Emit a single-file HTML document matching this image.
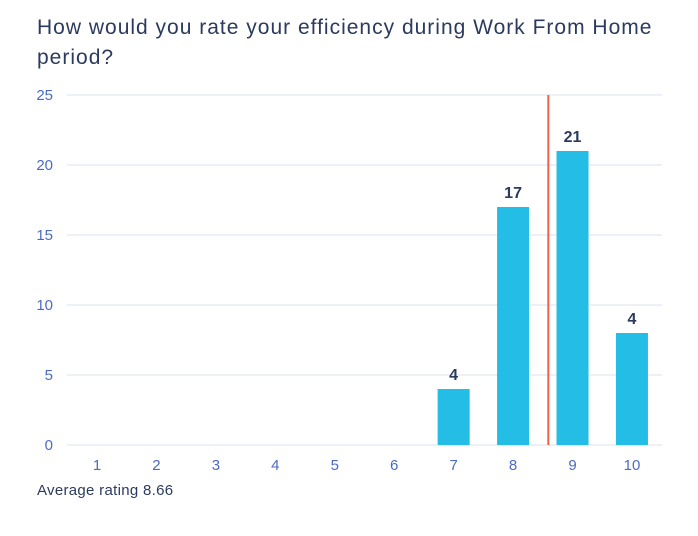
<!DOCTYPE html>
<html><head><meta charset="utf-8"><style>
body{margin:0;background:#fff;width:698px;height:536px;overflow:hidden;font-family:"Liberation Sans",sans-serif}
h1{position:absolute;left:37px;top:13px;margin:0;font-size:21px;font-weight:normal;color:#2b3a5e;line-height:30px;width:640px;letter-spacing:1px}
#avg{position:absolute;left:37px;top:482px;font-size:15px;color:#2b3a5e;letter-spacing:0.3px}
svg{position:absolute;left:0;top:0}
</style></head><body>
<h1>How would you rate your efficiency during Work From Home period?</h1>
<svg id="c" width="698" height="536"></svg>
<div id="avg">Average rating 8.66</div>
<script>
const categories=["1","2","3","4","5","6","7","8","9","10"];
const values=[0,0,0,0,0,0,4,17,21,8];
const valueLabels=["","","","","","","4","17","21","4"];
const yTicks=[0,5,10,15,20,25];
const averageValue=8.66;
const ns="http://www.w3.org/2000/svg",svg=document.getElementById('c');
const y0=445,yTop=95,yMax=25;
const y=v=>y0-(v/yMax)*(y0-yTop);
const x=i=>97+i*59.44;
function mk(t,a){const e=document.createElementNS(ns,t);for(const k in a)e.setAttribute(k,a[k]);svg.appendChild(e);return e;}
yTicks.forEach(t=>{
 const l=mk('line',{x1:67,x2:662,y1:y(t),y2:y(t),stroke:'#dce1f0','stroke-width':1});
 
 
 const tx=mk('text',{x:53,y:y(t)+5,'text-anchor':'end','font-size':15,fill:'#4a6bc4'});
 tx.textContent=t;
 
 
});
categories.forEach((c,i)=>{
 const tx=mk('text',{x:x(i),y:470,'text-anchor':'middle','font-size':15,fill:'#4a6bc4'});
 tx.textContent=c;
 
 
 if(values[i]>0){
  const r=mk('rect',{x:x(i)-16,y:y(values[i]),width:32,height:y0-y(values[i]),fill:'#23bde6'});
  
  
 }
 if(valueLabels[i]){
  const v=mk('text',{x:x(i),y:y(values[i])-9,'text-anchor':'middle','font-size':16,'font-weight':'bold',fill:'#2b3a5e'});
  v.textContent=valueLabels[i];
  
  
 }
});
const ax=x(averageValue-1)-4;
const al=mk('line',{x1:ax,x2:ax,y1:yTop,y2:y0,stroke:'#f4604a','stroke-width':2});


</script>
</body></html>
